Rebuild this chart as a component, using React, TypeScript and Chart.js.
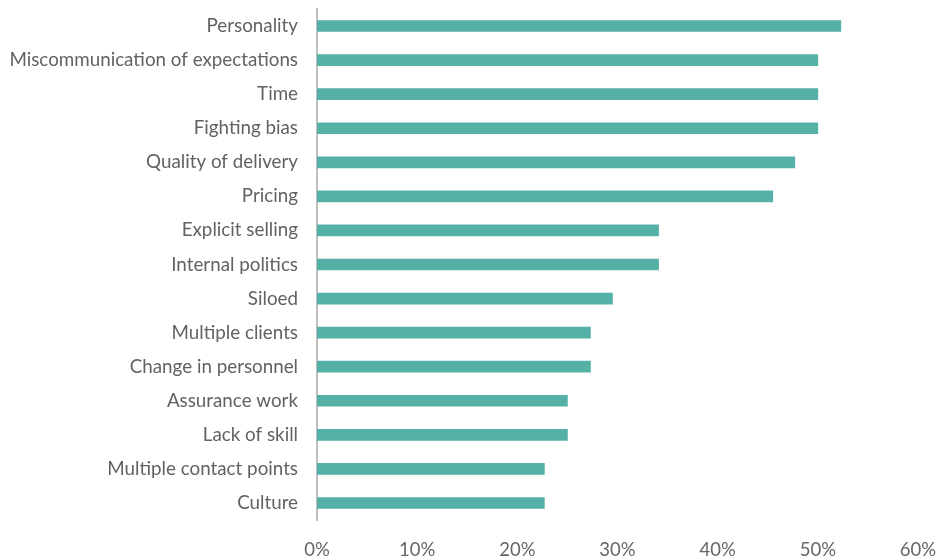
import React, { useEffect, useRef } from "react";
import { Chart, registerables } from "chart.js";

Chart.register(...registerables);

const categories = [
  "Personality",
  "Miscommunication of expectations",
  "Time",
  "Fighting bias",
  "Quality of delivery",
  "Pricing",
  "Explicit selling",
  "Internal politics",
  "Siloed",
  "Multiple clients",
  "Change in personnel",
  "Assurance work",
  "Lack of skill",
  "Multiple contact points",
  "Culture",
];
const values = [52.3, 50, 50, 50, 47.7, 45.5, 34.1, 34.1, 29.5, 27.3, 27.3, 25, 25, 22.7, 22.7];
const xTicks = [0, 10, 20, 30, 40, 50, 60];

export default function App() {
  const ref = useRef<HTMLCanvasElement>(null);
  useEffect(() => {
    document.body.style.margin = "0";
    const ctx = ref.current!;
    const chart = new Chart(ctx, {
      type: "bar",
      data: {
        labels: categories,
        datasets: [
          {
            data: values,
            backgroundColor: "#55b1a6",
            borderWidth: 0,
            barThickness: 11,
          },
        ],
      },
      options: {
        indexAxis: "y",
        animation: false,
        responsive: false,
        layout: { padding: { left: 0, right: 20, top: 9, bottom: 0 } },
        plugins: { legend: { display: false }, tooltip: { enabled: false } },
        scales: {
          x: {
            min: 0,
            max: 60,
            afterBuildTicks: (axis: any) => {
              axis.ticks = xTicks.map((v) => ({ value: v }));
            },
            afterFit: (axis: any) => {
              axis.height = 38;
              axis.paddingLeft = 0;
              axis.paddingRight = 0;
            },
            grid: { display: false, drawTicks: false },
            border: { display: false },
            ticks: {
              padding: 19,
              color: "#666666",
              font: { family: "Lato", size: 18.5 },
              callback: (v: any) => v + "%",
              maxRotation: 0,
            },
          },
          y: {
            afterFit: (axis: any) => {
              axis.width = 317;
              axis.paddingTop = 0;
              axis.paddingBottom = 0;
            },
            grid: { display: false, drawTicks: false },
            border: { display: true, color: "#bfbfbf", width: 2 },
            ticks: {
              padding: 19,
              color: "#626262",
              font: { family: "Lato", size: 18.8 },
            },
          },
        },
      },
    });
    return () => chart.destroy();
  }, []);
  return <canvas ref={ref} width={938} height={558} style={{ display: "block" }} />;
}
